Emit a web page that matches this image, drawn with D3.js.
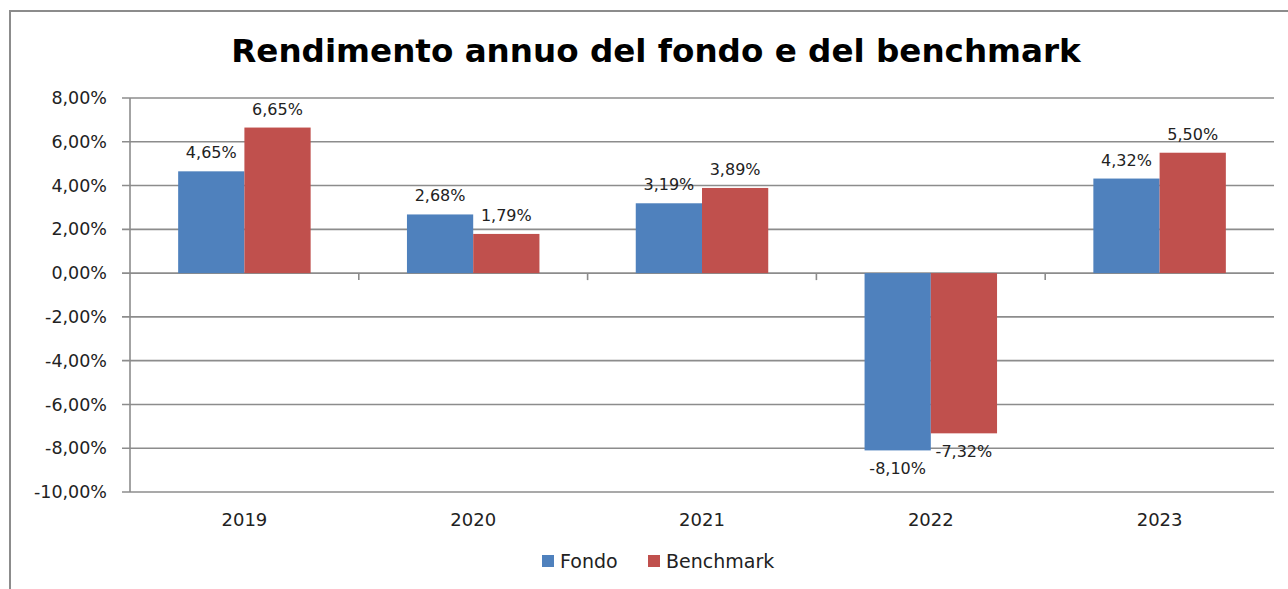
<!DOCTYPE html>
<html><head><meta charset="utf-8">
<script src="https://cdn.jsdelivr.net/npm/d3@7"></script>
<style>body{margin:0;background:#fff}svg{display:block}text{font-family:"DejaVu Sans",sans-serif;fill:#222}</style>
</head><body>
<svg id="c" width="1288" height="589"></svg>
<script>
const years = ["2019","2020","2021","2022","2023"];
const seriesNames = ["Fondo","Benchmark"];
const fondo = [4.65, 2.68, 3.19, -8.10, 4.32];
const benchmark = [6.65, 1.79, 3.89, -7.32, 5.50];
const yTicks = [8,6,4,2,0,-2,-4,-6,-8,-10];
const colors = ["#4F81BD","#C0504D"];
const title = "Rendimento annuo del fondo e del benchmark";

const svg = d3.select("#c");
const num = v => d3.format(".2f")(Math.abs(v)).replace(".", ",");
const fmt = v => (v < 0 ? "-" : "") + num(v) + "%";

// frame
svg.append("rect").attr("x",10).attr("y",11).attr("width",1300).attr("height",600)
  .attr("fill","none").attr("stroke","#8c8c8c").attr("stroke-width",2);

svg.append("text").attr("x",656).attr("y",62).attr("text-anchor","middle")
  .style("font-size","32.6px").style("font-weight","bold").style("fill","#000").text(title);

const L=130, R=1274, T=98, B=492;
const x = d3.scaleBand().domain(years).range([L,R]);
const y = d3.scaleLinear().domain([-10,8]).range([B,T]);
const xs = d3.scaleBand().domain(seriesNames).range([0, x.bandwidth()]).paddingInner(0).paddingOuter(0.727);

// gridlines
svg.append("g").selectAll("line").data(yTicks).join("line")
  .attr("x1",L-8).attr("x2",R).attr("y1",d=>y(d)).attr("y2",d=>y(d))
  .attr("stroke","#8c8c8c").attr("stroke-width",1.6);

// y axis line
svg.append("line").attr("x1",L).attr("x2",L).attr("y1",T).attr("y2",B).attr("stroke","#8c8c8c").attr("stroke-width",1.6);

// y labels
svg.append("g").selectAll("text").data(yTicks).join("text")
  .attr("x",107).attr("y",d=>y(d)).attr("dy","0.35em").attr("text-anchor","end")
  .style("font-size","17.5px").text(d=>fmt(d));

const data = years.map((yr,i)=>({yr, vals:[fondo[i], benchmark[i]]}));
const g = svg.append("g").selectAll("g").data(data).join("g").attr("transform",d=>`translate(${x(d.yr)},0)`);
g.selectAll("rect").data(d=>d.vals.map((v,j)=>({v,s:seriesNames[j],j}))).join("rect")
  .attr("x",d=>xs(d.s)).attr("width",xs.bandwidth())
  .attr("y",d=>y(Math.max(0,d.v))).attr("height",d=>Math.abs(y(d.v)-y(0)))
  .attr("fill",d=>colors[d.j]);

// category ticks on zero line
svg.append("g").selectAll("line").data(years.slice(1)).join("line")
  .attr("x1",d=>x(d)).attr("x2",d=>x(d)).attr("y1",y(0)).attr("y2",y(0)+7)
  .attr("stroke","#8c8c8c").attr("stroke-width",1.6);

// data labels
g.selectAll("text").data(d=>d.vals.map((v,j)=>({v,s:seriesNames[j],j}))).join("text")
  .attr("x",d=>xs(d.s)+xs.bandwidth()/2)
  .attr("y",d=> d.v>=0 ? y(d.v)-13 : y(d.v)+24)
  .attr("text-anchor","middle").style("font-size","16px").text(d=>fmt(d.v));

// x labels
svg.append("g").selectAll("text").data(years).join("text")
  .attr("x",d=>x(d)+x.bandwidth()/2).attr("y",520).attr("dy","0.35em").attr("text-anchor","middle")
  .style("font-size","18px").text(d=>d);

// legend
const leg = svg.append("g");
const lx = [542, 648];
seriesNames.forEach((s,i)=>{
  leg.append("rect").attr("x",lx[i]).attr("y",555).attr("width",12).attr("height",12).attr("fill",colors[i]);
  leg.append("text").attr("x",lx[i]+18).attr("y",561).attr("dy","0.35em").style("font-size","19px").text(s);
});
</script>
</body></html>
